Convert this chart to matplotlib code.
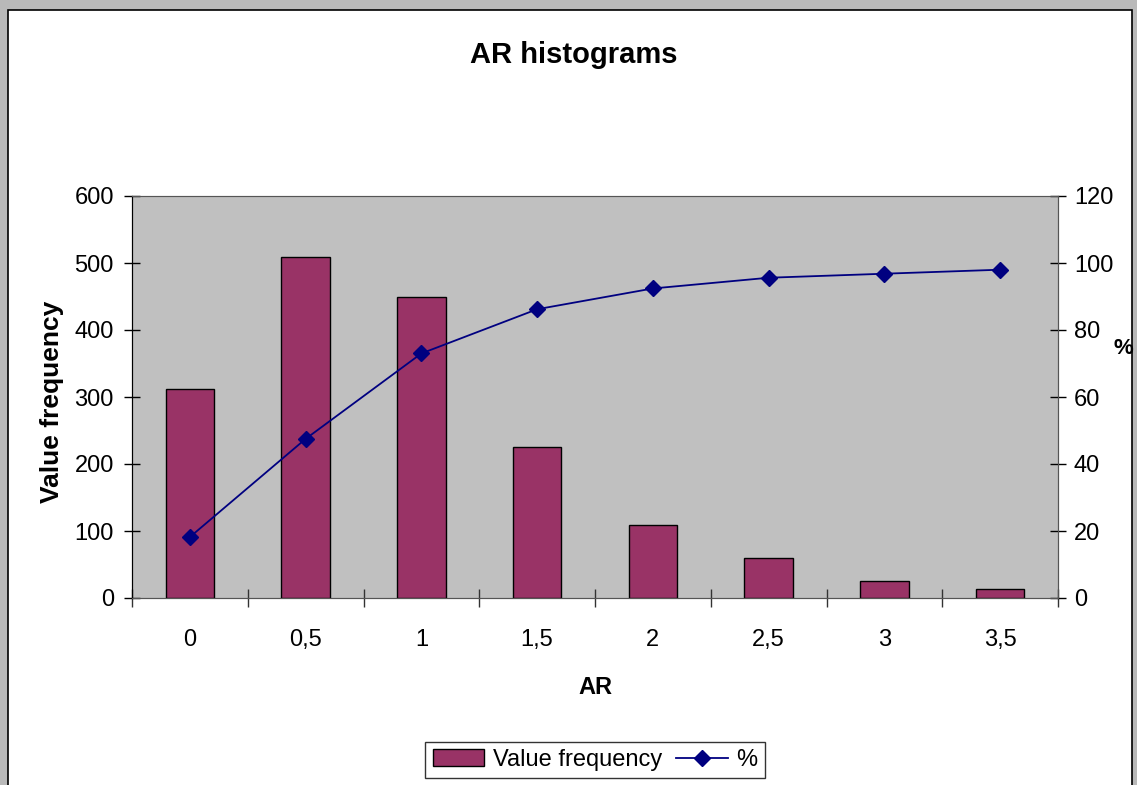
import matplotlib.pyplot as plt
from matplotlib.patches import Rectangle
import numpy as np

plt.rcParams['font.family'] = ['Liberation Sans', 'DejaVu Sans']

# AR histogram: counts per bin and cumulative percentage
ar_bins = ['0', '0,5', '1', '1,5', '2', '2,5', '3', '3,5']
freq = [312, 509, 450, 225, 109, 59, 25, 13]
cum_pct = [18.2, 47.5, 73.0, 86.2, 92.4, 95.6, 96.8, 98.0]

W, H = 1137, 785
fig = plt.figure(figsize=(W / 100, H / 100), dpi=100)
fig.patch.set_facecolor('#b9b9b9')

# white chart frame with a black border, behind everything
frame = Rectangle((8 / W, -0.05), (1132 - 8) / W, 1.05 - 10 / H,
                  transform=fig.transFigure, facecolor='white',
                  edgecolor='black', linewidth=1.2, zorder=-10)
fig.patches.append(frame)

ax = fig.add_axes([132 / W, 1 - 598 / H, (1058 - 132) / W, (598 - 196) / H])
ax.set_facecolor('#c0c0c0')
ax2 = ax.twinx()

x = np.arange(len(ar_bins))
bars = ax.bar(x, freq, width=0.42, color='#993366', edgecolor='black',
              linewidth=1.0, zorder=3, label='Value frequency')
line, = ax2.plot(x, cum_pct, color='#000080', linewidth=1.3, marker='D',
                 markersize=8, zorder=4, label='%')

ax.set_xlim(-0.5, len(ar_bins) - 0.5)
ax.set_ylim(0, 600)
ax2.set_ylim(0, 120)
ax.set_yticks(np.arange(0, 601, 100))
ax2.set_yticks(np.arange(0, 121, 20))

# ticks between categories, labels at centres
ax.set_xticks(np.arange(-0.5, len(ar_bins)), labels=[])
ax.set_xticks(x, labels=ar_bins, minor=True)
ax.tick_params(axis='x', which='major', direction='inout', length=13,
               width=1, color='#333333')
ax.tick_params(axis='x', which='minor', length=0, pad=22, labelsize=17)
ax.tick_params(axis='y', direction='inout', length=12, width=1,
               labelsize=17, pad=7)
ax2.tick_params(axis='y', direction='inout', length=12, width=1,
                labelsize=17, pad=5.5)

for a in (ax, ax2):
    for side in ('top', 'right', 'bottom'):
        a.spines[side].set_color('#555555')
    a.spines['left'].set_color('black')
ax.spines['top'].set_color('#808080')

fig.text(574 / W, 1 - 55 / H, 'AR histograms', fontsize=21,
         fontweight='bold', ha='center', va='center')
fig.text(595 / W, 1 - 687 / H, 'AR', fontsize=17, fontweight='bold',
         ha='center', va='center')
fig.text(52 / W, 1 - 402 / H, 'Value frequency', fontsize=19,
         fontweight='bold', ha='center', va='center', rotation=90)
fig.text(1123 / W, 1 - 349 / H, '%', fontsize=16, fontweight='bold',
         ha='center', va='center')

leg = fig.legend(handles=[bars, line], labels=['Value frequency', '%'],
                 loc='center', bbox_to_anchor=(595 / W, 1 - 760 / H), ncol=2,
                 fontsize=17, frameon=True, fancybox=False, edgecolor='black',
                 handlelength=2.2, handletextpad=0.35, columnspacing=0.6,
                 borderpad=0.3, borderaxespad=0)
leg.get_frame().set_linewidth(1.0)

fig.savefig('out.png', dpi=100, facecolor=fig.get_facecolor())
